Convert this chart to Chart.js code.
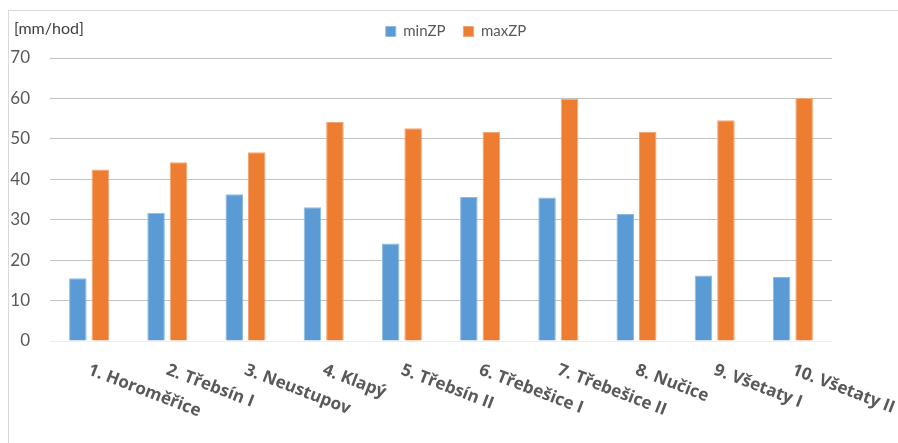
<!DOCTYPE html>
<html>
<head>
<meta charset="utf-8">
<script src="https://cdn.jsdelivr.net/npm/chart.js@4/dist/chart.umd.min.js"></script>
<style>
  html, body { margin: 0; padding: 0; background: #fff; }
  #wrap { width: 898px; height: 443px; position: relative; }
</style>
</head>
<body>
<div id="wrap"><canvas id="myChart"></canvas></div>
<script>
const categories = ['1. Horoměřice', '2. Třebsín I', '3. Neustupov', '4. Klapý', '5. Třebsín II',
    '6. Třebešice I', '7. Třebešice II', '8. Nučice', '9. Všetaty I', '10. Všetaty II'];
const minZP = [15.5, 31.7, 36.3, 33.1, 24.1, 35.6, 35.5, 31.4, 16.2, 15.8];
const maxZP = [42.4, 44.2, 46.7, 54.2, 52.6, 51.7, 59.9, 51.7, 54.6, 60.1];
const yTicks = [0, 10, 20, 30, 40, 50, 60, 70];
const unitLabel = '[mm/hod]';

const textGray = '#595959';

// fixed legend height, and nudge the legend a bit to the right like the original
const legendTweak = {
    id: 'legendTweak',
    beforeInit(chart) {
        const origFit = chart.legend.fit;
        chart.legend.fit = function () {
            origFit.call(this);
            this.height = 52;
        };
    },
    afterLayout(chart) {
        chart.legend.left += 7;
        chart.legend.right += 7;
    }
};

// frame lines + unit label + slanted category labels
const decorations = {
    id: 'decorations',
    beforeDraw(chart) {
        const ctx = chart.ctx;
        ctx.save();
        ctx.strokeStyle = '#d9d9d9';
        ctx.lineWidth = 1;
        ctx.beginPath();
        ctx.moveTo(8.5, 443);
        ctx.lineTo(8.5, 10.5);
        ctx.lineTo(898, 10.5);
        ctx.stroke();
        ctx.restore();
    },
    afterDraw(chart) {
        const ctx = chart.ctx;
        const xs = chart.scales.x;
        const area = chart.chartArea;
        ctx.save();
        ctx.fillStyle = '#404040';
        ctx.font = '16px Lato';
        ctx.textBaseline = 'middle';
        ctx.textAlign = 'left';
        ctx.fillText(unitLabel, 14, 29);

        ctx.fillStyle = textGray;
        ctx.font = 'bold 17px "Open Sans"';
        ctx.textBaseline = 'alphabetic';
        categories.forEach((label, i) => {
            const x = xs.getPixelForTick(i);
            ctx.save();
            ctx.translate(x - 2, area.bottom + 33);
            ctx.rotate(21 * Math.PI / 180);
            ctx.fillText(label, 0, 0);
            ctx.restore();
        });
        ctx.restore();
    }
};

const ctx = document.getElementById('myChart').getContext('2d');
const chart = new Chart(ctx, {
    type: 'bar',
    data: {
        labels: categories,
        datasets: [
            { label: 'minZP', data: minZP, backgroundColor: '#5B9BD5', borderColor: '#8fbbe3', borderWidth: 1 },
            { label: 'maxZP', data: maxZP, backgroundColor: '#ED7D31', borderColor: '#f3a574', borderWidth: 1 }
        ]
    },
    options: {
        responsive: true,
        maintainAspectRatio: false,
        animation: false,
        datasets: { bar: { categoryPercentage: 0.575, barPercentage: 0.78 } },
        layout: { padding: { left: 0, right: 0, top: 6, bottom: 94 } },
        plugins: {
            legend: {
                position: 'top',
                align: 'center',
                labels: {
                    boxWidth: 10,
                    boxHeight: 10,
                    padding: 18,
                    color: textGray,
                    font: { family: 'Lato', size: 15 }
                }
            },
            tooltip: { enabled: false }
        },
        scales: {
            x: {
                grid: { display: false },
                border: { display: false },
                ticks: { display: false }
            },
            y: {
                min: 0,
                max: 70,
                afterBuildTicks: scale => { scale.ticks = yTicks.map(v => ({ value: v })); },
                afterFit: scale => { scale.width = 50; },
                border: { display: false },
                grid: {
                    drawTicks: false,
                    color: c => c.tick.value === 0 ? '#eeeeee' : '#c4c4c4',
                    lineWidth: 1
                },
                ticks: {
                    padding: 20,
                    color: textGray,
                    font: { family: 'Lato', size: 17 }
                }
            },
            // empty axis on the right that only reserves the margin
            yRight: {
                position: 'right',
                min: 0,
                max: 70,
                afterFit: scale => { scale.width = 66; },
                grid: { display: false },
                border: { display: false },
                ticks: { display: false }
            }
        }
    },
    plugins: [legendTweak, decorations]
});
</script>
</body>
</html>
